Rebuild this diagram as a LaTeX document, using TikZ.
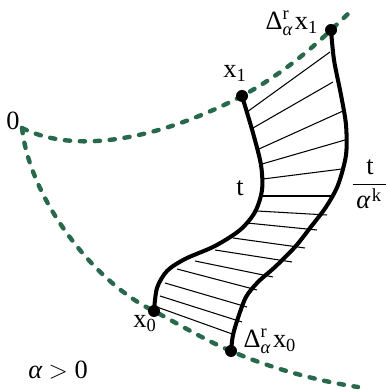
\documentclass[tikz,border=0pt]{standalone}
\usepackage{amsmath}
\usepackage{fontspec}
\setmainfont{Liberation Serif}
\usepackage{tikz}
\usepackage{xcolor}
\usetikzlibrary{arrows.meta,positioning}
\definecolor{pathgreen}{RGB}{40,105,75}

\begin{document}
\begin{tikzpicture}[
  lbl/.style={font=\fontsize{15}{18}\selectfont, inner sep=0pt},
  edge/.style={line width=2.3pt, line cap=round},
  hatch/.style={line width=0.6pt},
  orbit/.style={pathgreen, line width=2.5pt, line cap=round, dash pattern=on 3pt off 5.5pt}]
  \useasboundingbox (0,0) rectangle (7.72,7.80);
  \coordinate (o) at (0.44,5.24);
  \coordinate (x1) at (4.84,5.88);
  \coordinate (dx1) at (6.62,7.20);
  \coordinate (x0) at (3.08,1.58);
  \coordinate (dx0) at (4.62,0.78);
  \coordinate (upend) at (7.00,7.56);
  \coordinate (lowend) at (7.16,0.06);

  \draw[orbit] (o) .. controls (1.64,4.64) and (3.44,5.14) .. (x1)
    .. controls (5.50,6.24) and (6.10,6.70) .. (dx1) -- (upend);
  \draw[orbit] (o) .. controls (0.60,3.80) and (1.90,2.14) .. (x0)
    .. controls (3.60,1.30) and (4.10,1.00) .. (dx0)
    .. controls (5.20,0.52) and (6.20,0.20) .. (lowend);

  \foreach \ax/\ay/\bx/\by in {4.94/5.56/6.60/6.76, 5.06/5.24/6.66/6.16,
      5.18/4.82/6.86/5.58, 5.24/4.52/6.90/5.00, 5.26/4.22/6.84/4.42,
      5.18/3.88/6.66/3.88, 5.14/3.58/6.54/3.50, 4.94/3.34/6.34/3.20,
      4.66/3.04/6.10/2.84, 4.30/2.80/5.84/2.56, 3.90/2.58/5.46/2.26,
      3.54/2.42/5.14/2.00, 3.30/2.14/4.94/1.66, 3.20/1.88/4.84/1.36,
      3.14/1.66/4.70/1.10}
    \draw[hatch] (\ax,\ay) -- (\bx,\by);

  \draw[edge] plot[smooth] coordinates {(4.84,5.88) (5.06,5.14) (5.22,4.50)
    (5.24,4.00) (5.10,3.56) (4.80,3.20) (4.30,2.88) (3.70,2.62) (3.34,2.38)
    (3.14,2.04) (3.08,1.58)};
  \draw[edge] plot[smooth] coordinates {(6.62,7.20) (6.68,6.60) (6.82,5.90)
    (6.92,5.30) (6.92,4.70) (6.76,4.10) (6.52,3.66) (6.20,3.24) (5.90,2.86)
    (5.50,2.46) (5.16,2.16) (4.92,1.86) (4.76,1.44) (4.66,1.10) (4.62,0.78)};

  \foreach \p in {x1,dx1,x0,dx0}
    \fill (\p) circle (0.12);

  \node[lbl] (lo) at (0.26,5.38) {0};
  \node[lbl] (lx1) at (4.70,6.33) {$\text{x}_{\text{1}}$};
  \node[lbl] (ldx1) at (5.84,7.33) {$\text{Δ}^{\text{r}}_{\text{\itshape α}}\hspace{1pt}\text{x}_{\text{1}}$};
  \node[lbl] (lt) at (4.80,4.04) {t};
  \node[lbl] (lfrac) at (7.40,4.12) {$\dfrac{\text{t}}{\hspace{2pt}\text{\itshape α}^{\hspace{1pt}\text{k}}\hspace{3pt}}$};
  \node[lbl] (lx0) at (2.90,1.33) {$\text{x}_{\text{0}}$};
  \node[lbl] (ldx0) at (5.40,0.97) {$\text{Δ}^{\text{r}}_{\text{\itshape α}}\hspace{1pt}\text{x}_{\text{0}}$};
  \node[lbl] (lpos) at (1.16,0.40) {{\itshape α} $>$ 0};
\end{tikzpicture}
\end{document}
